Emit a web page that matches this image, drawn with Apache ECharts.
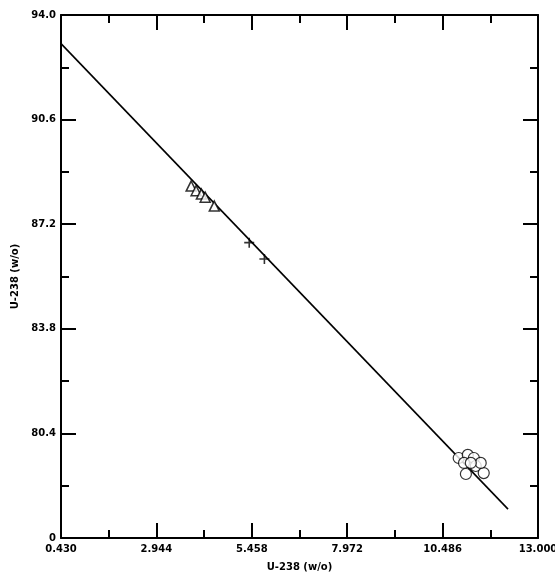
<!DOCTYPE html>
<html>
<head>
<meta charset="utf-8">
<script src="https://cdn.jsdelivr.net/npm/echarts@6/dist/echarts.min.js"></script>
<style>html,body{margin:0;padding:0;background:#fff;}#c{width:555px;height:575px;}</style>
</head>
<body>
<div id="c"></div>
<script>
// ---- data ----
var xTicks = [0.430, 2.944, 5.458, 7.972, 10.486, 13.000];
var xMinorTicks = [1.687, 4.201, 6.715, 9.229, 11.743];
var xTickLabels = ['0.430', '2.944', '5.458', '7.972', '10.486', '13.000'];
var yTicks = [77.0, 80.4, 83.8, 87.2, 90.6, 94.0];
var yMinorTicks = [78.7, 82.1, 85.5, 88.9, 92.3];
var yTickLabels = ['0', '80.4', '83.8', '87.2', '90.6', '94.0'];
var fitLine = [[0.43, 93.07], [12.21, 77.94]];
var triangles = [[3.86, 88.44], [3.99, 88.29], [4.13, 88.18], [4.23, 88.08], [4.47, 87.79]];
var pluses = [[5.39, 86.60], [5.79, 86.07]];
var circles = [[10.91, 79.60], [11.15, 79.70], [11.05, 79.44], [11.31, 79.60], [11.36, 79.34],
               [11.10, 79.08], [11.57, 79.11], [11.49, 79.44], [11.23, 79.44]];
var xName = 'U-238 (w/o)';
var yName = 'U-238 (w/o)';

function lookup(vals, labels) {
  return function (v) {
    var best = 0, bd = Infinity;
    for (var i = 0; i < vals.length; i++) { var d = Math.abs(vals[i] - v); if (d < bd) { bd = d; best = i; } }
    return labels[best];
  };
}

var font = { fontFamily: 'DejaVu Sans', fontWeight: 'bold', fontSize: 10, color: '#000' };
var lineStyle = { color: '#000', width: 2 };

function xAx(pos, ticks, len, showLine, showLabel) {
  return {
    type: 'value', min: 0.43, max: 13, position: pos,
    axisLine: { show: showLine, onZero: false, lineStyle: lineStyle },
    axisTick: { show: true, inside: true, length: len, customValues: ticks, lineStyle: { color: '#000', width: 2 } },
    axisLabel: showLabel ? Object.assign({ customValues: xTicks, formatter: lookup(xTicks, xTickLabels), margin: 6 }, font) : { show: false },
    splitLine: { show: false },
    name: showLabel ? xName : '', nameLocation: 'middle', nameGap: 24,
    nameTextStyle: font
  };
}
function yAx(pos, ticks, len, showLine, showLabel) {
  return {
    type: 'value', min: 77, max: 94, position: pos,
    axisLine: { show: showLine, onZero: false, lineStyle: lineStyle },
    axisTick: { show: true, inside: true, length: len, customValues: ticks, lineStyle: { color: '#000', width: 2 } },
    axisLabel: showLabel ? Object.assign({ customValues: yTicks, formatter: lookup(yTicks, yTickLabels), margin: 5 }, font) : { show: false },
    splitLine: { show: false },
    name: showLabel ? yName : '', nameLocation: 'middle', nameGap: 40, nameRotate: 90,
    nameTextStyle: font
  };
}

var chart = echarts.init(document.getElementById('c'), null, { renderer: 'canvas' });
chart.setOption({
  animation: false,
  backgroundColor: '#fff',
  grid: { left: 61, right: 17, top: 15, bottom: 37, containLabel: false, outerBoundsMode: 'none' },
  xAxis: [
    xAx('bottom', xTicks, 15, true, true),
    xAx('bottom', xMinorTicks, 8, false, false),
    xAx('top', xTicks, 15, true, false),
    xAx('top', xMinorTicks, 8, false, false)
  ],
  yAxis: [
    yAx('left', yTicks, 15, true, true),
    yAx('left', yMinorTicks, 8, false, false),
    yAx('right', yTicks, 15, true, false),
    yAx('right', yMinorTicks, 8, false, false)
  ],
  series: [
    { type: 'line', data: fitLine, showSymbol: false, symbol: 'none',
      lineStyle: { color: '#000', width: 1.6 }, z: 1 },
    { type: 'scatter', data: triangles, symbol: 'triangle', symbolSize: 10,
      itemStyle: { color: '#fff', borderColor: '#000', borderWidth: 1.5 }, z: 3 },
    { type: 'scatter', data: pluses, symbol: 'path://M0,5L10,5M5,0L5,10', symbolSize: 10,
      itemStyle: { color: 'none', borderColor: '#000', borderWidth: 1.6 }, z: 3 },
    { type: 'scatter', data: circles, symbol: 'circle', symbolSize: 11,
      itemStyle: { color: '#fff', borderColor: '#000', borderWidth: 1.2 }, z: 3 }
  ]
});
</script>
</body>
</html>
